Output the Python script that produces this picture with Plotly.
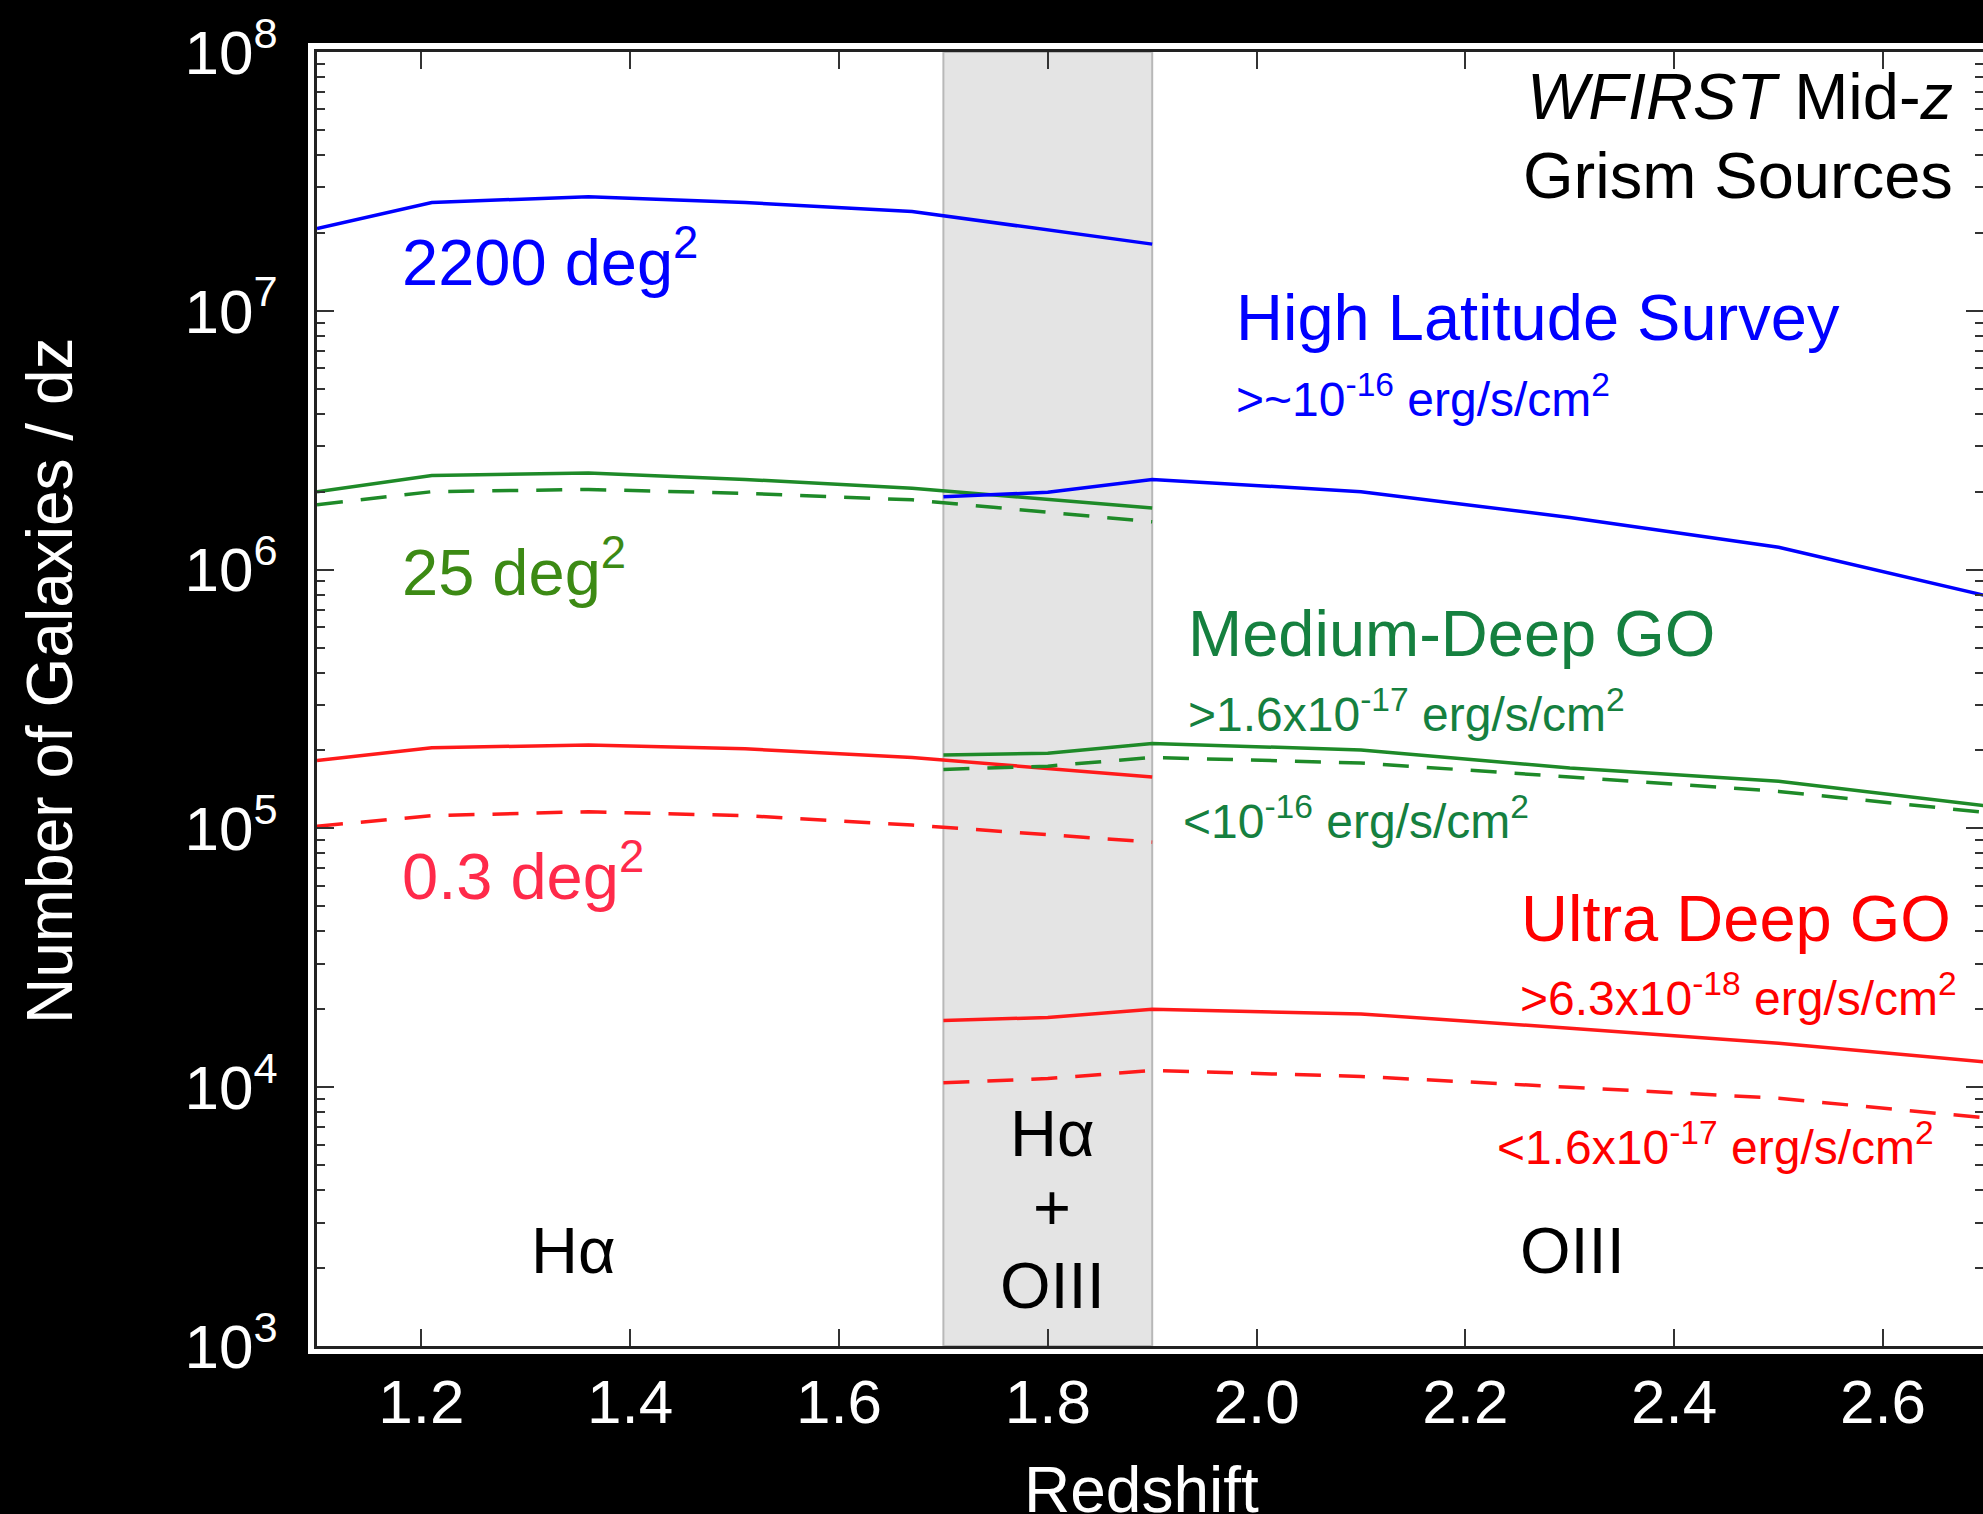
import plotly.graph_objects as go

# ---------------- data ----------------
z_ha = [1.1, 1.21, 1.36, 1.51, 1.67, 1.9]
hls_ha = [2.08e7, 2.62e7, 2.76e7, 2.62e7, 2.42e7, 1.81e7]
mdg_ha_solid = [2.0e6, 2.31e6, 2.36e6, 2.23e6, 2.06e6, 1.73e6]
mdg_ha_dash = [1.78e6, 2.0e6, 2.04e6, 1.97e6, 1.86e6, 1.53e6]
udg_ha_solid = [1.83e5, 2.05e5, 2.10e5, 2.03e5, 1.88e5, 1.58e5]
udg_ha_dash = [1.02e5, 1.12e5, 1.16e5, 1.12e5, 1.03e5, 8.85e4]

z_o3 = [1.7, 1.8, 1.9, 2.1, 2.3, 2.5, 2.7]
hls_o3 = [1.91e6, 1.99e6, 2.23e6, 2.0e6, 1.59e6, 1.22e6, 7.9e5]
mdg_o3_solid = [1.92e5, 1.95e5, 2.13e5, 2.01e5, 1.71e5, 1.52e5, 1.22e5]
mdg_o3_dash = [1.69e5, 1.74e5, 1.88e5, 1.79e5, 1.58e5, 1.39e5, 1.15e5]
udg_o3_solid = [1.81e4, 1.86e4, 2.0e4, 1.92e4, 1.69e4, 1.48e4, 1.25e4]
udg_o3_dash = [1.04e4, 1.08e4, 1.16e4, 1.10e4, 1.00e4, 9.06e3, 7.6e3]

overlap_z = [1.7, 1.9]
x_ticks = [1.2, 1.4, 1.6, 1.8, 2.0, 2.2, 2.4, 2.6]
y_decades = [3, 4, 5, 6, 7, 8]

# ---------------- style ----------------
W, H = 1983, 1514
L, R, T, B = 317, 0, 52, 168
PW, PH = W - L - R, H - T - B
FONT = "Liberation Sans, Arial, sans-serif"
BLUE = "#0000ff"
GREEN = "#1e8a28"
RED = "#ff1a1a"
LW = 3.5
DASH = "26px,18px"


def xp(px):
    return (px - L) / PW


def yp(py):
    return (T + PH - py) / PH


fig = go.Figure()


def add_line(x, y, color, dash=None):
    fig.add_trace(go.Scatter(
        x=x, y=y, mode="lines", showlegend=False, hoverinfo="skip",
        line=dict(color=color, width=LW, dash=dash if dash else "solid"),
    ))


add_line(z_ha, hls_ha, BLUE)
add_line(z_ha, mdg_ha_solid, GREEN)
add_line(z_ha, mdg_ha_dash, GREEN, DASH)
add_line(z_ha, udg_ha_solid, RED)
add_line(z_ha, udg_ha_dash, RED, DASH)
add_line(z_o3, hls_o3, BLUE)
add_line(z_o3, mdg_o3_solid, GREEN)
add_line(z_o3, mdg_o3_dash, GREEN, DASH)
add_line(z_o3, udg_o3_solid, RED)
add_line(z_o3, udg_o3_dash, RED, DASH)

# invisible trace for right-side tick axis
fig.add_trace(go.Scatter(x=[None], y=[None], yaxis="y2", showlegend=False, hoverinfo="skip"))

minor_vals = [k * 10 ** e for e in y_decades[:-1] for k in range(2, 10)]
major_vals = [10 ** e for e in y_decades]

tickcol = "#333333"

fig.update_layout(
    width=W, height=H,
    margin=dict(l=L, r=R, t=T, b=B, pad=0),
    paper_bgcolor="black",
    plot_bgcolor="white",
    font=dict(family=FONT, color="white"),
    showlegend=False,
    xaxis=dict(
        range=[1.1, 1.1 + PW / 1044.0],
        tickvals=x_ticks, ticktext=["%.1f" % v for v in x_ticks],
        ticks="inside", ticklen=17, tickwidth=2, tickcolor=tickcol,
        showline=True, linecolor="#222222", linewidth=3, mirror="ticks",
        showgrid=False, zeroline=False,
        tickfont=dict(size=62, color="white", family=FONT),
        ticklabelstandoff=0,
    ),
    yaxis=dict(
        type="log", range=[3, 8],
        tickvals=major_vals, ticktext=["10<sup>%d</sup>" % e for e in y_decades],
        ticks="inside", ticklen=17, tickwidth=2, tickcolor=tickcol,
        minor=dict(tickvals=minor_vals, ticks="inside", ticklen=8, tickwidth=2, tickcolor=tickcol),
        showline=True, linecolor="#222222", linewidth=3, mirror=False,
        showgrid=False, zeroline=False,
        tickfont=dict(size=62, color="white", family=FONT),
        ticklabelstandoff=24,
    ),
    yaxis2=dict(
        type="log", range=[3, 8], overlaying="y", side="right",
        tickvals=major_vals, showticklabels=False,
        ticks="inside", ticklen=17, tickwidth=2, tickcolor=tickcol,
        minor=dict(tickvals=minor_vals, ticks="inside", ticklen=8, tickwidth=2, tickcolor=tickcol),
        showline=False, showgrid=False, zeroline=False,
    ),
)

# white frame around the plotting area
fig.add_shape(type="rect", xref="paper", yref="paper",
              x0=xp(308), x1=1.05, y0=yp(1354), y1=yp(43),
              fillcolor="white", line=dict(width=0), layer="below")

# shaded overlap region
fig.add_shape(type="rect", xref="x", yref="paper",
              x0=overlap_z[0], x1=overlap_z[1], y0=0, y1=1,
              fillcolor="#e4e4e4", line=dict(color="#b8b8b8", width=2), layer="below")


def ann(text, px, py, color, size, xanchor="left", align="left"):
    fig.add_annotation(
        text=text, xref="paper", yref="paper", x=xp(px), y=yp(py),
        xanchor=xanchor, yanchor="middle", align=align, showarrow=False,
        font=dict(family=FONT, size=size, color=color),
    )


BIG, SMALL = 65, 48
GREEN_T1 = "#3c8a14"
GREEN_T2 = "#15803f"
RED_T1 = "#ff2a4a"

ann("2200 deg<sup>2</sup>", 400, 258, BLUE, BIG)
ann("25 deg<sup>2</sup>", 400, 568, GREEN_T1, BIG)
ann("0.3 deg<sup>2</sup>", 400, 872, RED_T1, BIG)

ann("High Latitude Survey", 1234, 318, BLUE, BIG)
ann("&gt;~10<sup>-16</sup> erg/s/cm<sup>2</sup>", 1234, 396, BLUE, SMALL)

ann("Medium-Deep GO", 1186, 633, GREEN_T2, BIG)
ann("&gt;1.6x10<sup>-17</sup> erg/s/cm<sup>2</sup>", 1186, 711, GREEN_T2, SMALL)
ann("&lt;10<sup>-16</sup> erg/s/cm<sup>2</sup>", 1181, 818, GREEN_T2, SMALL)

ann("Ultra Deep GO", 1519, 919, "#ff0000", BIG)
ann("&gt;6.3x10<sup>-18</sup> erg/s/cm<sup>2</sup>", 1518, 995, "#ff0000", SMALL)
ann("&lt;1.6x10<sup>-17</sup> erg/s/cm<sup>2</sup>", 1495, 1144, "#ff0000", SMALL)

ann("<i>WFIRST</i> Mid-<i>z</i>", 1955, 97, "black", BIG, xanchor="right", align="right")
ann("Grism Sources", 1955, 175, "black", BIG, xanchor="right", align="right")

ann("Hα", 573, 1250, "black", BIG, xanchor="center", align="center")
ann("OIII", 1572, 1250, "black", BIG, xanchor="center", align="center")
ann("Hα", 1052, 1133, "black", BIG, xanchor="center", align="center")
ann("+", 1052, 1207, "black", BIG, xanchor="center", align="center")
ann("OIII", 1052, 1285, "black", BIG, xanchor="center", align="center")

# axis titles
fig.add_annotation(text="Number of Galaxies / dz", xref="paper", yref="paper",
                   x=xp(50), y=yp(681), textangle=-90, showarrow=False,
                   xanchor="center", yanchor="middle",
                   font=dict(family=FONT, size=64, color="white"))
fig.add_annotation(text="Redshift", xref="paper", yref="paper",
                   x=xp(1141), y=yp(1490), showarrow=False,
                   xanchor="center", yanchor="middle",
                   font=dict(family=FONT, size=64, color="white"))

fig.write_html("out.html")
